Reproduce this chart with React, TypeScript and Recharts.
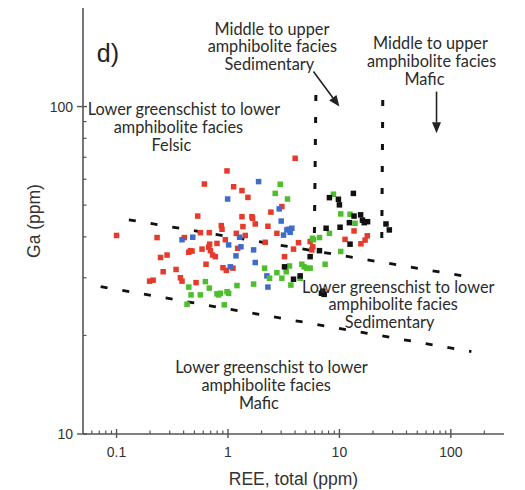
import React from 'react';
import { ScatterChart, Scatter, XAxis, YAxis, ReferenceLine, ReferenceDot } from 'recharts';

type Pt = [number, number];

// Sample groups: [REE total (ppm), Ga (ppm)]
const redSamples: Pt[] = [
  [0.1, 40.4], [0.231, 39.8], [0.248, 34.6], [0.284, 35.2], [0.262, 31.3], [0.198, 29.3],
  [0.213, 29.5], [0.342, 31.8], [0.374, 30.0], [0.387, 29.3], [0.406, 39.8], [0.445, 35.9],
  [0.46, 36.3], [0.476, 36.2], [0.517, 29.0], [0.535, 46.3], [0.565, 41.2], [0.585, 36.7],
  [0.614, 58.0], [0.635, 33.0], [0.68, 41.2], [0.671, 37.2], [0.685, 38.0], [0.695, 36.3],
  [0.729, 35.2], [0.77, 34.8], [0.797, 38.2], [0.871, 43.3], [0.884, 42.2], [0.902, 32.2],
  [0.947, 39.2], [0.966, 31.6], [0.98, 63.6], [1.109, 32.1], [1.187, 41.0], [1.221, 36.9],
  [1.124, 56.9], [1.335, 55.4], [1.51, 52.8], [1.335, 46.1], [1.362, 43.0], [1.429, 40.4],
  [1.64, 46.1], [1.663, 45.6], [1.757, 43.8], [2.159, 38.5], [2.282, 43.1], [2.427, 47.6],
  [2.747, 41.0], [3.045, 49.5], [3.217, 34.8], [3.873, 36.7], [4.009, 69.5], [4.295, 38.4],
  [5.463, 38.7], [5.77, 37.3], [5.653, 36.5], [11.24, 39.3], [13.53, 41.7], [15.6, 38.1],
  [17.0, 39.1], [17.8, 40.3],
];

const blueSamples: Pt[] = [
  [0.387, 39.2], [0.483, 39.9], [0.993, 52.2], [1.014, 37.8], [1.049, 32.4], [1.179, 35.0],
  [1.272, 39.9], [1.307, 37.3], [1.698, 36.5], [1.757, 33.4], [1.882, 59.0], [2.235, 30.4],
  [2.282, 28.1], [2.883, 48.7], [3.003, 44.7], [3.151, 40.5], [3.376, 42.0], [3.494, 42.2],
  [3.617, 41.3], [3.742, 42.5],
];

const greenSamples: Pt[] = [
  [0.429, 24.9], [0.445, 28.1], [0.466, 26.6], [0.565, 26.6], [0.627, 29.2], [0.68, 27.9],
  [0.797, 26.8], [0.825, 26.6], [0.854, 26.9], [0.927, 24.8], [0.98, 27.2], [1.014, 26.9],
  [1.204, 28.4], [1.698, 28.7], [2.13, 32.1], [2.361, 29.9], [2.654, 54.3], [2.747, 31.1],
  [2.943, 57.9], [3.045, 29.9], [3.33, 31.3], [3.422, 52.2], [3.567, 32.6], [3.667, 28.5],
  [4.445, 29.9], [4.6, 33.0], [4.826, 32.4], [5.1, 32.1], [5.463, 32.1], [5.732, 39.6],
  [5.85, 39.2], [6.622, 39.8], [7.44, 33.0], [8.136, 41.0], [8.84, 54.0], [10.28, 47.0],
  [10.28, 36.1], [12.46, 46.9], [13.81, 44.0],
];

const blackSamples: Pt[] = [
  [3.217, 32.4], [3.873, 29.7], [4.445, 30.4], [5.463, 34.8], [6.622, 36.3], [6.9, 26.9],
  [7.3, 26.7], [7.1, 27.3], [7.596, 42.5], [8.136, 52.7], [9.795, 52.1], [10.0, 50.1],
  [10.14, 42.8], [12.29, 44.2], [12.46, 38.0], [13.35, 54.3], [13.53, 46.3], [15.5, 46.7],
  [16.1, 45.0], [16.7, 44.2], [17.9, 44.5], [26.18, 43.8], [28.05, 42.0],
];

// Field boundaries (dashed) and pointer arrows, in data units
const boundaryUpper: Pt[] = [[0.129, 45.1], [128.9, 30.4]];
const boundaryLower: Pt[] = [[0.072, 28.2], [153, 17.85]];
const boundarySedimentary: Pt[] = [[6.15, 108.5], [5.95, 37.8]];
const boundaryMafic: Pt[] = [[24.5, 104.8], [24.0, 39.5]];
const arrowSedimentary: Pt[] = [[5.85, 127.9], [10, 100]];
const arrowMafic: Pt[] = [[74.4, 111.1], [74.4, 82.9]];

// Field labels, one entry per text line (anchored at line centre)
const fieldLabels: { text: string; at: Pt }[] = [
  { text: 'Middle to upper', at: [2.48, 173.6] },
  { text: 'amphibolite facies', at: [2.5, 153.3] },
  { text: 'Sedimentary', at: [2.35, 135.1] },
  { text: 'Middle to upper', at: [65.7, 156.9] },
  { text: 'amphibolite facies', at: [67.2, 138.6] },
  { text: 'Mafic', at: [58.0, 122.1] },
  { text: 'Lower greenschist to lower', at: [0.402, 98.4] },
  { text: 'amphibolite facies', at: [0.359, 86.7] },
  { text: 'Felsic', at: [0.311, 76.4] },
  { text: 'Lower greenschist to lower', at: [33.7, 28.3] },
  { text: 'amphibolite facies', at: [30.4, 24.96] },
  { text: 'Sedimentary', at: [28.2, 22.0] },
  { text: 'Lower greenschist to lower', at: [2.457, 16.06] },
  { text: 'amphibolite facies', at: [2.202, 14.19] },
  { text: 'Mafic', at: [1.894, 12.5] },
];
const panelTag: Pt = [0.0836, 145.9];

const xDomain: Pt = [0.05, 300];
const yDomain: Pt = [10, 200];
const xTicks = [
  0.06, 0.07, 0.08, 0.09, 0.1, 0.2, 0.3, 0.4, 0.5, 0.6, 0.7, 0.8, 0.9,
  1, 2, 3, 4, 5, 6, 7, 8, 9, 10, 20, 30, 40, 50, 60, 70, 80, 90, 100, 200,
];
const yTicks = [10, 20, 30, 40, 50, 60, 70, 80, 90, 100];
const xTickLabels: Record<string, string> = { '0.1': '0.1', '1': '1', '10': '10', '100': '100' };
const yTickLabels: Record<string, string> = { '10': '10', '100': '100' };

const toRows = (pts: Pt[]) => pts.map(([ree, ga]) => ({ ree, ga }));

const AXIS = '#555';
const TEXT = '#333';
const SANS = '"Liberation Sans", Arial, sans-serif';
const LABEL_FONT = 'Lato, "Open Sans", sans-serif';

const isMajor = (v: number) => Math.abs(Math.log10(v) - Math.round(Math.log10(v))) < 1e-6;

const BottomTick = (props: any) => {
  const { x, y, payload } = props;
  const v = payload.value;
  if (isMajor(v)) {
    return (
      <g>
        <line x1={x} y1={y - 5} x2={x} y2={y + 4} stroke={AXIS} strokeWidth={1.4} />
        <text x={x} y={y + 23} textAnchor="middle" fontFamily={SANS} fontSize={14} fill={TEXT}>
          {xTickLabels[String(v)] ?? ''}
        </text>
      </g>
    );
  }
  return <line x1={x} y1={y} x2={x} y2={y - 3.5} stroke={AXIS} strokeWidth={1.2} />;
};

const TopTick = (props: any) => {
  const { x, y, payload } = props;
  const len = isMajor(payload.value) ? 5 : 3.5;
  return <line x1={x} y1={y} x2={x} y2={y + len} stroke={AXIS} strokeWidth={1.2} />;
};

const LeftTick = (props: any) => {
  const { x, y, payload } = props;
  const v = payload.value;
  if (isMajor(v)) {
    return (
      <g>
        <line x1={x - 6} y1={y} x2={x + 4} y2={y} stroke={AXIS} strokeWidth={1.4} />
        <text x={x - 10} y={y + 5} textAnchor="end" fontFamily={SANS} fontSize={14} fill={TEXT}>
          {yTickLabels[String(v)] ?? ''}
        </text>
      </g>
    );
  }
  return <line x1={x} y1={y} x2={x + 3.5} y2={y} stroke={AXIS} strokeWidth={1.2} />;
};

const RightTick = (props: any) => {
  const { x, y, payload } = props;
  const len = isMajor(payload.value) ? 6 : 3.5;
  return <line x1={x} y1={y} x2={x - len} y2={y} stroke={AXIS} strokeWidth={1.2} />;
};

const squareShape = (color: string, size = 5.5) => (props: any) => (
  <rect x={props.cx - size / 2} y={props.cy - size / 2} width={size} height={size} fill={color} />
);

const ArrowShape = (props: any) => {
  const { x1, y1, x2, y2 } = props;
  const ang = Math.atan2(y2 - y1, x2 - x1);
  const L = 11;
  const W = 4.5;
  const bx = x2 - L * Math.cos(ang);
  const by = y2 - L * Math.sin(ang);
  const px = -Math.sin(ang) * W;
  const py = Math.cos(ang) * W;
  return (
    <g>
      <line x1={x1} y1={y1} x2={bx} y2={by} stroke="#222" strokeWidth={1.6} />
      <polygon points={`${x2},${y2} ${bx + px},${by + py} ${bx - px},${by - py}`} fill="#222" />
    </g>
  );
};

const textShape = (text: string) => (props: any) => (
  <text
    x={props.cx}
    y={props.cy}
    textAnchor="middle"
    dominantBaseline="central"
    fontFamily={LABEL_FONT}
    fontSize={16.3}
    fill="#2b2b2b"
  >
    {text}
  </text>
);

const tagShape = (props: any) => (
  <text x={props.cx} y={props.cy} textAnchor="middle" dominantBaseline="central" fontFamily={SANS} fontSize={25} fill="#222">
    d)
  </text>
);

const seg = (p: Pt[]) => p.map(([x, y]) => ({ x, y }));

const dashedBoundary = { stroke: '#111', strokeWidth: 2.8, strokeDasharray: '7 15' };

export default function App() {
  return (
    <div style={{ position: 'absolute', left: 0, top: 0, width: 525, height: 490, background: '#fff' }}>
      <ScatterChart width={525} height={490} margin={{ top: 8, right: 21, bottom: 16, left: 0 }}>
        <XAxis
          xAxisId={0}
          dataKey="ree"
          type="number"
          scale="log"
          domain={xDomain}
          allowDataOverflow
          ticks={xTicks}
          interval={0}
          tick={BottomTick}
          tickLine={false}
          tickSize={0}
          tickMargin={0}
          height={40}
          axisLine={{ stroke: AXIS, strokeWidth: 1.6 }}
          label={{
            content: (p: any) => (
              <text
                x={p.viewBox.x + p.viewBox.width / 2}
                y={p.viewBox.y + 51}
                textAnchor="middle"
                fontFamily={SANS}
                fontSize={17.5}
                fill={TEXT}
              >
                REE, total (ppm)
              </text>
            ),
          }}
        />
        <XAxis
          xAxisId="top"
          orientation="top"
          type="number"
          scale="log"
          domain={xDomain}
          allowDataOverflow
          ticks={xTicks}
          interval={0}
          tick={TopTick}
          tickLine={false}
          tickSize={0}
          tickMargin={0}
          height={0}
          axisLine={{ stroke: AXIS, strokeWidth: 1.6 }}
        />
        <YAxis
          yAxisId={0}
          dataKey="ga"
          type="number"
          scale="log"
          domain={yDomain}
          allowDataOverflow
          ticks={yTicks}
          interval={0}
          tick={LeftTick}
          tickLine={false}
          tickSize={0}
          tickMargin={0}
          width={83}
          axisLine={{ stroke: AXIS, strokeWidth: 1.6 }}
          label={{
            content: (p: any) => {
              const cx = p.viewBox.x + 40;
              const cy = p.viewBox.y + p.viewBox.height / 2;
              return (
                <text
                  x={cx}
                  y={cy}
                  transform={`rotate(-90, ${cx}, ${cy})`}
                  textAnchor="middle"
                  fontFamily={SANS}
                  fontSize={17.5}
                  fill={TEXT}
                >
                  Ga (ppm)
                </text>
              );
            },
          }}
        />
        <YAxis
          yAxisId="right"
          orientation="right"
          type="number"
          scale="log"
          domain={yDomain}
          allowDataOverflow
          ticks={yTicks}
          interval={0}
          tick={RightTick}
          tickLine={false}
          tickSize={0}
          tickMargin={0}
          width={0}
          axisLine={{ stroke: AXIS, strokeWidth: 1.6 }}
        />

        <ReferenceLine segment={seg(boundaryUpper)} {...dashedBoundary} />
        <ReferenceLine segment={seg(boundaryLower)} {...dashedBoundary} />
        <ReferenceLine segment={seg(boundarySedimentary)} {...dashedBoundary} strokeDasharray="6 16" strokeWidth={3} />
        <ReferenceLine segment={seg(boundaryMafic)} {...dashedBoundary} strokeDasharray="6 16" strokeWidth={3} />
        <ReferenceLine segment={seg(arrowSedimentary)} shape={ArrowShape} />
        <ReferenceLine segment={seg(arrowMafic)} shape={ArrowShape} />

        <Scatter data={toRows(redSamples)} shape={squareShape('#e63a2c')} isAnimationActive={false} />
        <Scatter data={toRows(blueSamples)} shape={squareShape('#3f6cc8')} isAnimationActive={false} />
        <Scatter data={toRows(greenSamples)} shape={squareShape('#4cbf2a')} isAnimationActive={false} />
        <Scatter data={toRows(blackSamples)} shape={squareShape('#111111')} isAnimationActive={false} />

        {fieldLabels.map((l, i) => (
          <ReferenceDot key={i} x={l.at[0]} y={l.at[1]} r={0} shape={textShape(l.text)} />
        ))}
        <ReferenceDot x={panelTag[0]} y={panelTag[1]} r={0} shape={tagShape} />
      </ScatterChart>
    </div>
  );
}
